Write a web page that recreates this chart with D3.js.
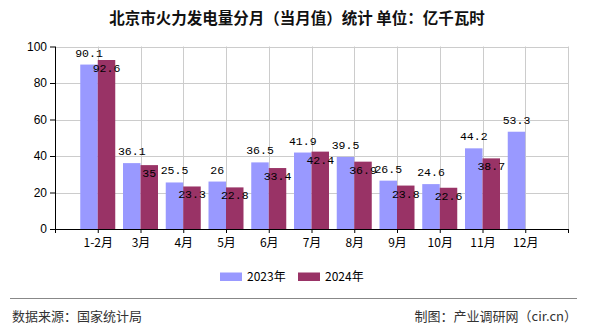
<!DOCTYPE html>
<html><head><meta charset="utf-8">
<script src="https://cdn.jsdelivr.net/npm/d3@7"></script>
<style>
html,body{margin:0;padding:0;background:#fff;}
svg{display:block;}
</style></head>
<body>
<svg id="c" width="590" height="330"></svg>
<script>
const categories = ["1-2月","3月","4月","5月","6月","7月","8月","9月","10月","11月","12月"];
const seriesNames = ["2023年","2024年"];
const values2023 = [90.1,36.1,25.5,26,36.5,41.9,39.5,26.5,24.6,44.2,53.3];
const values2024 = [92.6,35,23.3,22.8,33.4,42.4,36.9,23.8,22.6,38.7,null];
const yTicks = [0,20,40,60,80,100];
const colors = ["#9999ff","#993366"];
const title = "北京市火力发电量分月（当月值）统计 单位：亿千瓦时";
const sourceText = "数据来源：国家统计局";
const creditText = "制图：产业调研网（cir.cn）";

(function(){
const svg = d3.select("#c");
const pL = 55, pR = 568, pT = 46.5, pB = 229;
const cjk = "'Noto Sans CJK SC','Noto Sans',sans-serif";

const x = d3.scaleLinear().domain([-1, categories.length]).range([pL, pR]);
const y = d3.scaleLinear().domain([0, 100]).range([pB, pT]);
const sub = d3.scaleBand().domain([0,1]).range([-17.5, 17.5]);

const g = svg.append("g");
g.selectAll("line.h").data(yTicks.filter(d=>d>0)).join("line")
  .attr("x1", pL).attr("x2", pR)
  .attr("y1", d=>Math.round(y(d))+0.5).attr("y2", d=>Math.round(y(d))+0.5)
  .attr("stroke", "#cccccc").attr("stroke-width", 1);
const vIdx = d3.range(0, categories.length + 1);
g.selectAll("line.v").data(vIdx).join("line")
  .attr("x1", d=>Math.round(x(d))+0.5).attr("x2", d=>Math.round(x(d))+0.5)
  .attr("y1", pT).attr("y2", pB)
  .attr("stroke", "#cccccc").attr("stroke-width", 1);

const data = categories.map((c,i)=>({c, i, v:[values2023[i], values2024[i]]}));
const grp = svg.append("g").selectAll("g").data(data).join("g")
  .attr("transform", d=>`translate(${x(d.i)},0)`);
grp.selectAll("rect").data(d=>d.v.map((v,k)=>({v,k})).filter(e=>e.v!=null)).join("rect")
  .attr("x", e=>sub(e.k)).attr("width", sub.bandwidth())
  .attr("y", e=>y(e.v)).attr("height", e=>pB - y(e.v))
  .attr("fill", e=>colors[e.k]);

grp.selectAll("text").data(d=>d.v.map((v,k)=>({v,k})).filter(e=>e.v!=null)).join("text")
  .attr("x", e=>sub(e.k) + sub.bandwidth()/2)
  .attr("y", e=> e.k===0 ? y(e.v) - 8 : y(e.v) + 12)
  .attr("text-anchor","middle")
  .attr("font-family","'Liberation Mono','DejaVu Sans Mono',monospace")
  .attr("font-size", 11.5)
  .attr("fill","#000")
  .text(e=>String(e.v));

const yAxis = d3.axisLeft(y).tickValues(yTicks).tickSize(5).tickPadding(3);
const ya = svg.append("g").attr("transform",`translate(${pL},0)`).call(yAxis);
ya.select(".domain").attr("d", `M0.5,${pT}V${pB+4}`).attr("stroke","#000");
ya.selectAll("text").attr("font-family","Arial,'Liberation Sans',sans-serif").attr("font-size",12).attr("fill","#000");
ya.selectAll("line").attr("stroke","#000");

const xAxis = d3.axisBottom(x).tickValues(d3.range(-1, categories.length+1)).tickSize(4)
  .tickFormat(i => (i>=0 && i<categories.length) ? categories[i] : "");
const xa = svg.append("g").attr("transform",`translate(0,${pB})`).call(xAxis);
xa.select(".domain").attr("d", `M${pL},0.5H${pR}`).attr("stroke","#000");
xa.selectAll("line").attr("stroke","#000");
xa.selectAll("text").attr("font-family",cjk).attr("font-size",12).attr("fill","#000").attr("dy","0.95em");

svg.append("text").attr("x", 297).attr("y", 24).attr("text-anchor","middle")
  .attr("font-family",cjk).attr("font-size",15.5).attr("font-weight","bold").attr("fill","#111")
  .text(title);

const lg = svg.append("g");
const legendX = [220, 298];
seriesNames.forEach((n,k)=>{
  lg.append("rect").attr("x", legendX[k]).attr("y", 272.5).attr("width", 22).attr("height", 8.5).attr("fill", colors[k]);
  lg.append("text").attr("x", legendX[k]+27).attr("y", 281).attr("font-family",cjk).attr("font-size",12).attr("fill","#000").text(n);
});

svg.append("line").attr("x1",10).attr("x2",577).attr("y1",298.5).attr("y2",298.5).attr("stroke","#888").attr("stroke-width",1);
svg.append("text").attr("x",12).attr("y",321).attr("font-family",cjk).attr("font-size",13).attr("fill","#333").text(sourceText);
svg.append("text").attr("x",577).attr("y",321).attr("text-anchor","end").attr("font-family",cjk).attr("font-size",13).attr("fill","#333").text(creditText);
})();
</script>
</body></html>
